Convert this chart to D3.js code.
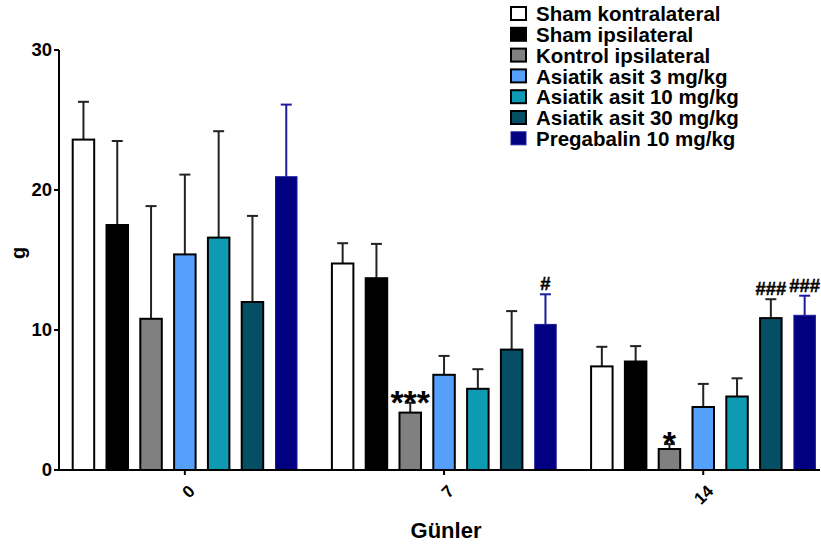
<!DOCTYPE html>
<html>
<head>
<meta charset="utf-8">
<script src="https://cdn.jsdelivr.net/npm/d3@7"></script>
<style>
  body { margin: 0; background: #fff; }
  svg text { font-family: "Liberation Sans", Arial, sans-serif; font-weight: bold; }
</style>
</head>
<body>
<svg id="chart" width="821" height="548"></svg>
<script>
// data
var days = ['0', '7', '14'];
var seriesNames = ['Sham kontralateral', 'Sham ipsilateral', 'Kontrol ipsilateral',
  'Asiatik asit 3 mg/kg', 'Asiatik asit 10 mg/kg', 'Asiatik asit 30 mg/kg', 'Pregabalin 10 mg/kg'];
var seriesColors = ['#ffffff', '#000000', '#808080', '#56a0fb', '#0f9ab4', '#044f63', '#000080'];
var meanValues = [
  [23.6, 14.75, 7.4],
  [17.5, 13.7, 7.75],
  [10.8, 4.1, 1.5],
  [15.4, 6.8, 4.5],
  [16.6, 5.8, 5.25],
  [12.0, 8.6, 10.85],
  [20.95, 10.4, 11.05]
];
var semValues = [
  [2.7, 1.45, 1.4],
  [6.0, 2.45, 1.1],
  [8.05, 0.7, 0.35],
  [5.7, 1.35, 1.65],
  [7.6, 1.4, 1.3],
  [6.15, 2.75, 1.35],
  [5.15, 2.15, 1.4]
];
var yTicks = [0, 10, 20, 30];
var marks = [
  { day: '7', series: 2, label: '***' },
  { day: '14', series: 2, label: '*' },
  { day: '7', series: 6, label: '#' },
  { day: '14', series: 5, label: '###' },
  { day: '14', series: 6, label: '###' }
];

var svg = d3.select('#chart');
var axisX = 59, axisBottom = 470, axisTop = 50, axisRight = 820;

var y = d3.scaleLinear().domain([0, 30]).range([axisBottom, axisTop]);
var x0 = d3.scaleBand().domain(days).range([72.7, 815.4]).paddingInner(0.1346).paddingOuter(0);
var x1 = d3.scaleBand().domain(d3.range(seriesNames.length)).range([0, x0.bandwidth()])
  .paddingInner(0.364).paddingOuter(0);

var bars = [];
days.forEach(function (d, di) {
  seriesNames.forEach(function (s, si) {
    bars.push({ day: d, si: si, mean: meanValues[si][di], sem: semValues[si][di] });
  });
});

// error bars (drawn first so bar covers the stem)
var errG = svg.append('g');
bars.forEach(function (b) {
  var cx = x0(b.day) + x1(b.si) + x1.bandwidth() / 2;
  var col = b.si === 6 ? '#1c1c9c' : '#222';
  errG.append('line').attr('x1', cx).attr('x2', cx)
    .attr('y1', y(b.mean)).attr('y2', y(b.mean + b.sem))
    .attr('stroke', col).attr('stroke-width', 2);
  errG.append('line').attr('x1', cx - 5.5).attr('x2', cx + 5.5)
    .attr('y1', y(b.mean + b.sem)).attr('y2', y(b.mean + b.sem))
    .attr('stroke', col).attr('stroke-width', 2);
});

svg.append('g').selectAll('rect').data(bars).enter().append('rect')
  .attr('x', function (b) { return x0(b.day) + x1(b.si); })
  .attr('y', function (b) { return y(b.mean); })
  .attr('width', x1.bandwidth())
  .attr('height', function (b) { return axisBottom - y(b.mean); })
  .attr('fill', function (b) { return seriesColors[b.si]; })
  .attr('stroke', function (b) { return b.si === 6 ? '#1c1c9c' : '#000'; })
  .attr('stroke-width', function (b) { return b.si === 6 ? 1 : 2; });

// significance marks
marks.forEach(function (m) {
  var di = days.indexOf(m.day);
  var top = y(meanValues[m.series][di] + semValues[m.series][di]);
  var cx = x0(m.day) + x1(m.series) + x1.bandwidth() / 2;
  var star = m.label.charAt(0) === '*';
  svg.append('text')
    .attr('x', cx).attr('y', star ? top + 11 : top - 4)
    .attr('text-anchor', 'middle')
    .style('font-size', star ? '34px' : '18.5px')
    .style('stroke', star ? 'none' : '#000').style('stroke-width', 0.4)
    .text(m.label);
});

// axes
svg.append('line').attr('x1', axisX).attr('x2', axisX).attr('y1', axisTop).attr('y2', axisBottom)
  .attr('stroke', '#000').attr('stroke-width', 2);
svg.append('line').attr('x1', axisX - 1).attr('x2', axisRight).attr('y1', axisBottom).attr('y2', axisBottom)
  .attr('stroke', '#000').attr('stroke-width', 2);

var yt = svg.append('g');
yTicks.forEach(function (t) {
  yt.append('line').attr('x1', axisX - 5).attr('x2', axisX).attr('y1', y(t)).attr('y2', y(t))
    .attr('stroke', '#000').attr('stroke-width', 2);
  yt.append('text').attr('x', axisX - 7).attr('y', y(t)).attr('dy', '0.35em')
    .attr('text-anchor', 'end').style('font-size', '18.5px').text(t);
});

var xt = svg.append('g');
days.forEach(function (d) {
  var cx = x0(d) + x0.bandwidth() / 2;
  xt.append('line').attr('x1', cx).attr('x2', cx).attr('y1', axisBottom).attr('y2', axisBottom + 5)
    .attr('stroke', '#000').attr('stroke-width', 2);
  xt.append('text').attr('transform', 'translate(' + (cx + 7) + ',' + (axisBottom + 18) + ') rotate(-45)')
    .attr('text-anchor', 'end').attr('dy', '0.35em').style('font-size', '17px').text(d);
});

svg.append('text').attr('x', 446).attr('y', 538).attr('text-anchor', 'middle')
  .style('font-size', '22px').text('Günler');
svg.append('text').attr('transform', 'translate(25,253) rotate(-90)').attr('text-anchor', 'middle')
  .style('font-size', '20px').text('g');

// legend
var lg = svg.append('g').attr('transform', 'translate(510,4)');
seriesNames.forEach(function (s, i) {
  var row = lg.append('g').attr('transform', 'translate(0,' + (i * 20.8) + ')');
  row.append('rect').attr('x', 1).attr('y', 3).attr('width', 15).attr('height', 13)
    .attr('fill', seriesColors[i])
    .attr('stroke', i === 6 ? '#1c1c9c' : '#000').attr('stroke-width', i === 6 ? 1 : 2);
  row.append('text').attr('x', 26).attr('y', 10).attr('dy', '0.35em')
    .style('font-size', '20.5px').text(s);
});
</script>
</body>
</html>
